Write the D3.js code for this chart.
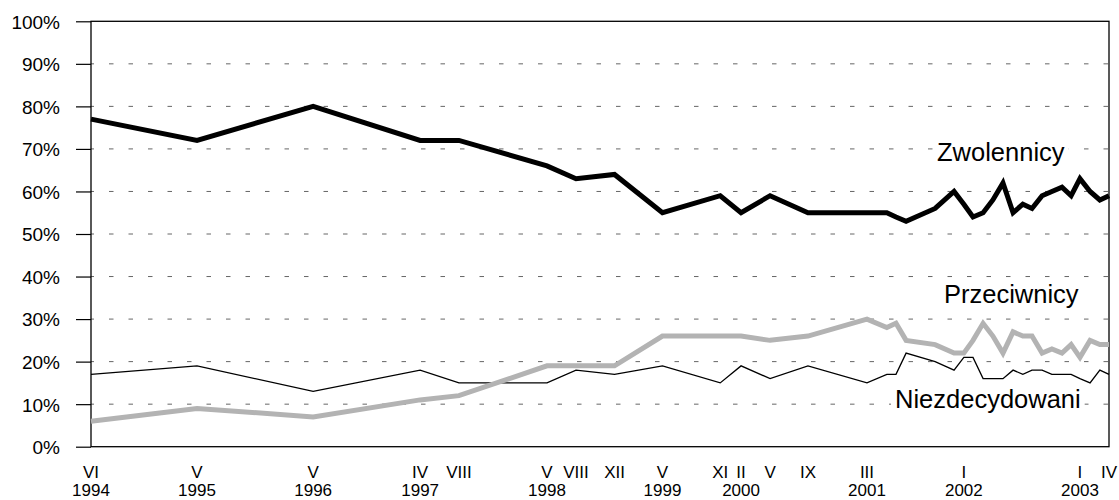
<!DOCTYPE html>
<html>
<head>
<meta charset="utf-8">
<script src="https://cdn.jsdelivr.net/npm/d3@7"></script>
<style>
	body { margin: 0; background: #fff; }
	#root { width: 1119px; height: 500px; }
	text { font-family: Arial, "Liberation Sans", sans-serif; fill: #000; }
</style>
</head>
<body>
<div id="root"></div>
<script>
const surveyDates = ["1994-06-15","1995-05-17","1996-05-19","1997-04-23","1997-08-24","1998-05-30","1998-08-30","1998-12-30","1999-05-31","1999-11-30","2000-02-04","2000-05-06","2000-09-03","2001-03-09","2001-05-11","2001-06-09","2001-07-11","2001-10-11","2001-12-10","2002-01-10","2002-02-08","2002-03-12","2002-04-12","2002-05-14","2002-06-15","2002-07-16","2002-08-14","2002-09-15","2002-10-16","2002-11-17","2002-12-16","2003-01-13","2003-02-14","2003-03-17","2003-04-15"];

const zwolennicy     = [77,72,80,72,72,66,63,64,55,59,55,59,55,55,55,54,53,56,60,57,54,55,58,62,55,57,56,59,60,61,59,63,60,58,59];
const przeciwnicy    = [6,9,7,11,12,19,19,19,26,26,26,25,26,30,28,29,25,24,22,22,25,29,26,22,27,26,26,22,23,22,24,21,25,24,24];
const niezdecydowani = [17,19,13,18,15,15,18,17,19,15,19,16,19,15,17,17,22,20,18,21,21,16,16,16,18,17,18,18,17,17,17,16,15,18,17];

const tickIndex  = [0,1,2,3,4,5,6,7,8,9,10,11,12,13,19,31,34];
const tickMonths = ["VI","V","V","IV","VIII","V","VIII","XII","V","XI","II","V","IX","III","I","I","IV"];
const tickYears  = ["1994","1995","1996","1997","","1998","","","1999","","2000","","","2001","2002","2003",""];

const yTicks = [0,10,20,30,40,50,60,70,80,90,100];

const parseDate = d3.timeParse("%Y-%m-%d");

const margin = { left: 91, right: 10, top: 21.3, bottom: 53.3 };
const width = 1119;
const height = 500;

const makeChart = () => {

	const dates = surveyDates.map(parseDate);

	const x = d3.scaleTime()
				.domain(d3.extent(dates))
				.range([margin.left, width - margin.right]);

	const y = d3.scaleLinear()
				.domain([0, 100])
				.range([height - margin.bottom, margin.top]);

	const svg = d3.select("#root")
					.append("svg")
						.attr("width", width)
						.attr("height", height);

	// dashed gridlines
	svg.append("g")
		.selectAll("line")
		.data(yTicks.filter(t => t > 0 && t < 100))
			.enter()
		.append("line")
			.attr("x1", x.range()[0])
			.attr("x2", x.range()[1])
			.attr("y1", d => y(d))
			.attr("y2", d => y(d))
			.attr("stroke", "#666")
			.attr("stroke-width", 1)
			.attr("stroke-dasharray", "4.5,15")
			.attr("stroke-dashoffset", 1.5);

	// y axis
	const yAxis = d3.axisLeft(y)
					.tickValues(yTicks)
					.tickSize(15)
					.tickSizeOuter(0)
					.tickPadding(16)
					.tickFormat(d => d + "%");

	const ya = svg.append("g")
				.attr("transform", `translate(${ margin.left }, 0)`)
				.call(yAxis);

	ya.select(".domain").remove();
	ya.selectAll(".tick line").attr("stroke", "#000").attr("stroke-width", 1.2);
	ya.selectAll(".tick text")
		.attr("font-size", 19)
		.attr("font-family", "Arial, 'Liberation Sans', sans-serif")
		.attr("dy", "0.36em");

	// plot frame
	svg.append("rect")
		.attr("x", x.range()[0])
		.attr("y", y(100))
		.attr("width", x.range()[1] - x.range()[0])
		.attr("height", y(0) - y(100))
		.attr("fill", "none")
		.attr("stroke", "#000")
		.attr("stroke-width", 1.3);

	// x labels
	const xl = svg.append("g")
				.selectAll("g")
				.data(tickIndex)
					.enter()
				.append("g")
					.attr("transform", d => `translate(${ x(dates[d]) }, 0)`);

	xl.append("text")
		.attr("y", 478)
		.attr("text-anchor", "middle")
		.attr("font-size", 17)
		.text((d, i) => tickMonths[i]);

	xl.append("text")
		.attr("y", 495.5)
		.attr("text-anchor", "middle")
		.attr("font-size", 17)
		.text((d, i) => tickYears[i]);

	// series
	const line = d3.line()
					.x((d, i) => x(dates[i]))
					.y(d => y(d));

	const series = [
		{ name: "Niezdecydowani", values: niezdecydowani, color: "#000", w: 1.3 },
		{ name: "Przeciwnicy", values: przeciwnicy, color: "#b3b3b3", w: 5 },
		{ name: "Zwolennicy", values: zwolennicy, color: "#000", w: 5 }
	];

	svg.append("g")
		.selectAll("path")
		.data(series)
			.enter()
		.append("path")
			.attr("d", d => line(d.values))
			.attr("fill", "none")
			.attr("stroke", d => d.color)
			.attr("stroke-width", d => d.w)
			.attr("stroke-linejoin", "miter");

	// series labels
	const labelPos = {
		"Zwolennicy": [937, 161],
		"Przeciwnicy": [944, 303],
		"Niezdecydowani": [895, 408]
	};

	series.forEach(s => {
		const g = svg.append("g");
		const t = g.append("text")
					.attr("x", labelPos[s.name][0])
					.attr("y", labelPos[s.name][1])
					.attr("font-size", 25.5)
					.text(s.name);
		const b = t.node().getBBox();
		g.insert("rect", "text")
			.attr("x", b.x - 4)
			.attr("y", b.y + 2)
			.attr("width", b.width + 8)
			.attr("height", b.height - 4)
			.attr("fill", "#fff");
	});
};

makeChart();
</script>
</body>
</html>
